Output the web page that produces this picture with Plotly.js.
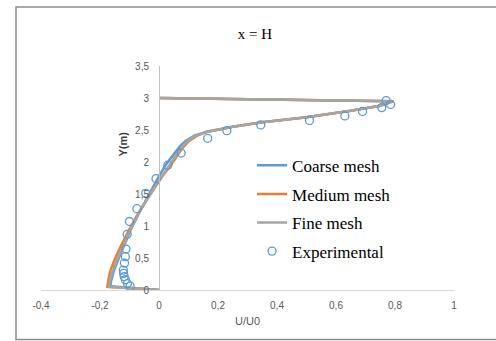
<!DOCTYPE html>
<html>
<head>
<meta charset="utf-8">
<script src="https://cdn.plot.ly/plotly-3.0.1.min.js"></script>
<style>html,body{margin:0;padding:0;background:#fff;}#chart{width:496px;height:341px;}</style>
</head>
<body>
<div id="chart"></div>
<script>
// ---- data ----
const coarseX = [0, -0.165, -0.162, -0.153, -0.138, -0.118, -0.095, -0.068, -0.045, -0.025, 0.0, 0.025, 0.05, 0.07, 0.09, 0.12, 0.16, 0.25, 0.35, 0.5, 0.65, 0.75, 0.79, 0.6, 0.3, 0];
const coarseY = [0, 0.06, 0.15, 0.3, 0.48, 0.7, 0.95, 1.2, 1.4, 1.58, 1.78, 1.97, 2.13, 2.24, 2.33, 2.41, 2.47, 2.55, 2.62, 2.7, 2.8, 2.88, 2.95, 2.96, 2.98, 3.0];
const mediumX = [0, -0.175, -0.172, -0.165, -0.15, -0.128, -0.1, -0.07, -0.04, -0.015, 0.012, 0.04, 0.062, 0.08, 0.1, 0.125, 0.16, 0.25, 0.35, 0.5, 0.65, 0.75, 0.795, 0.6, 0.3, 0];
const mediumY = [0, 0.05, 0.15, 0.3, 0.48, 0.7, 0.95, 1.2, 1.42, 1.6, 1.78, 1.95, 2.1, 2.22, 2.32, 2.4, 2.47, 2.55, 2.62, 2.7, 2.8, 2.88, 2.95, 2.96, 2.98, 3.0];
const fineX = [0, -0.17, -0.166, -0.157, -0.142, -0.121, -0.096, -0.068, -0.04, -0.016, 0.01, 0.035, 0.058, 0.075, 0.095, 0.12, 0.16, 0.25, 0.35, 0.5, 0.65, 0.75, 0.79, 0.6, 0.3, 0];
const fineY = [0, 0.05, 0.15, 0.3, 0.48, 0.7, 0.95, 1.2, 1.42, 1.6, 1.78, 1.95, 2.1, 2.22, 2.32, 2.4, 2.47, 2.55, 2.62, 2.7, 2.8, 2.88, 2.95, 2.96, 2.98, 3.0];
const expX = [0.77, 0.785, 0.755, 0.69, 0.63, 0.51, 0.345, 0.23, 0.165, 0.075, 0.03, -0.01, -0.045, -0.075, -0.1, -0.108, -0.112, -0.114, -0.117, -0.121, -0.12, -0.118, -0.114, -0.107, -0.098];
const expY = [2.96, 2.90, 2.85, 2.79, 2.72, 2.65, 2.58, 2.49, 2.37, 2.14, 1.95, 1.74, 1.51, 1.27, 1.07, 0.87, 0.64, 0.52, 0.42, 0.31, 0.26, 0.21, 0.16, 0.10, 0.06];
const xTickVals = [-0.4, -0.2, 0, 0.2, 0.4, 0.6, 0.8, 1];
const xTickText = ["-0,4", "-0,2", "0", "0,2", "0,4", "0,6", "0,8", "1"];
const yTickVals = [0, 0.5, 1, 1.5, 2, 2.5, 3, 3.5];
const yTickText = ["0", "0,5", "1", "1,5", "2", "2,5", "3", "3,5"];

const serif = "Liberation Serif, Times New Roman, serif";
const sans = "Liberation Sans, Arial, sans-serif";

const traces = [
  {x: coarseX, y: coarseY, name: "Coarse mesh", mode: "lines", legendgroup: "a",
   line: {color: "#5B9BD5", width: 2.5}},
  {x: mediumX, y: mediumY, name: "Medium mesh", mode: "lines", legendgroup: "b",
   line: {color: "#ED7D31", width: 2.5}},
  {x: fineX, y: fineY, name: "Fine mesh", mode: "lines", legendgroup: "c",
   line: {color: "#A5A5A5", width: 2.5}},
  {x: expX, y: expY, name: "Experimental", mode: "markers", legendgroup: "d",
   marker: {symbol: "circle-open", size: 8, color: "#5B9BD5", line: {width: 1.3, color: "#5B9BD5"}}}
];

const layout = {
  width: 496, height: 341,
  margin: {l: 41, r: 42, t: 66, b: 51},
  paper_bgcolor: "#fff", plot_bgcolor: "#fff",
  showlegend: true,
  legend: {x: 0.511, y: 0.635, xanchor: "left", yanchor: "top",
           font: {family: serif, size: 17, color: "#000"}, tracegroupgap: 3.5,
           bgcolor: "rgba(0,0,0,0)"},
  xaxis: {range: [-0.4, 1], tickvals: xTickVals, ticktext: xTickText,
          showgrid: false, zeroline: false, showline: true, linecolor: "#d9d9d9", linewidth: 1,
          ticks: "", tickfont: {family: sans, size: 10, color: "#595959"}, ticklabelstandoff: 6,
          fixedrange: true},
  yaxis: {range: [0, 3.5], tickvals: yTickVals, ticktext: yTickText,
          anchor: "free", position: 0.2857, showgrid: false, zeroline: false,
          showline: true, linecolor: "#bfbfbf", linewidth: 1,
          ticks: "", tickfont: {family: sans, size: 10, color: "#595959"}, ticklabelstandoff: 8,
          fixedrange: true},
  title: {text: "x = H", font: {family: serif, size: 15, color: "#000"}, x: 0.514, xanchor: "center", y: 0.9, yanchor: "middle", yref: "container"},
  annotations: [
    {text: "<b>Y(m)</b>", xref: "paper", yref: "paper", x: (114 - 41) / 413, y: (290 - 130) / 224,
     showarrow: false, textangle: -90, font: {family: sans, size: 11, color: "#404040"}},
    {text: "U/U0", xref: "paper", yref: "paper", x: (247 - 41) / 413, y: (290 - 329) / 224,
     showarrow: false, font: {family: sans, size: 11, color: "#595959"}}
  ],
  shapes: [
    {type: "rect", xref: "paper", yref: "paper", x0: (16 - 41) / 413, x1: (505 - 41) / 413,
     y0: (290 - 339.5) / 224, y1: (290 - 7) / 224, line: {color: "#8c8c8c", width: 1.5}, layer: "below"}
  ]
};

Plotly.newPlot("chart", traces, layout, {displayModeBar: false, staticPlot: true});
</script>
</body>
</html>
